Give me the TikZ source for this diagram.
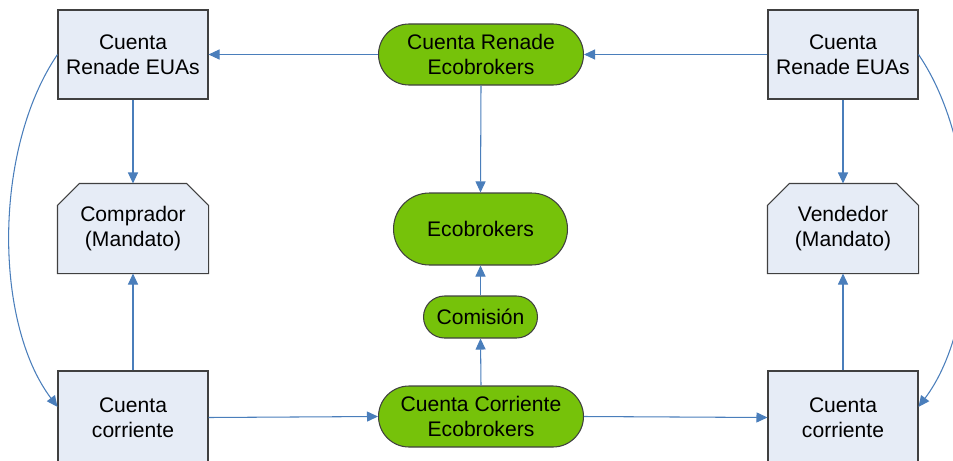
\documentclass[tikz,border=0pt]{standalone}
\usepackage{fontspec}
\setmainfont{Liberation Sans}
\usetikzlibrary{arrows.meta, shapes.misc, backgrounds}
\definecolor{flowblue}{HTML}{4A7EBB}
\definecolor{boxfill}{HTML}{E6ECF6}
\definecolor{boxline}{HTML}{404040}
\definecolor{ecogreen}{HTML}{76C20A}

\begin{document}
\begin{tikzpicture}[
  >={Triangle[length=2.2mm, width=2mm]},
  acct/.style={
    draw=boxline, line width=0.6pt, fill=boxfill,
    minimum width=30mm, minimum height=17.8mm, inner sep=2pt,
    font=\fontsize{12}{14.5}\selectfont, align=center
  },
  party/.style={acct, draw=none, fill=none},
  partyline/.style={draw=boxline, line width=0.6pt, fill=boxfill},
  ecobox/.style={
    draw=boxline, line width=0.6pt, fill=ecogreen, rounded rectangle,
    inner sep=2pt, font=\fontsize{12}{14.5}\selectfont, align=center
  },
  flow/.style={->, line width=0.6pt, flowblue},
]

% Page
\useasboundingbox (0,0) rectangle (19.06,9.2);

% Buyer side
\node[acct] (renL) at (2.66,8.11) {Cuenta\\Renade EUAs};
\node[party] (comp) at (2.66,4.63) {Comprador\\(Mandato)};
\node[acct, minimum height=18.6mm] (ccL) at (2.66,0.85) {Cuenta\\corriente};

% Seller side
\node[acct] (renR) at (16.86,8.11) {Cuenta\\Renade EUAs};
\node[party] (vend) at (16.86,4.63) {Vendedor\\(Mandato)};
\node[acct, minimum height=18.6mm] (ccR) at (16.86,0.85) {Cuenta\\corriente};

% Chamfered outlines of the two parties
\begin{scope}[on background layer]
\foreach \p in {comp, vend} {
  \draw[partyline] (\p.south west) -- ([yshift=-4.4mm]\p.north west)
    -- ([xshift=4.4mm]\p.north west) -- ([xshift=-4.4mm]\p.north east)
    -- ([yshift=-4.4mm]\p.north east) -- (\p.south east) -- cycle;
}
\end{scope}

% Ecobrokers column
\node[ecobox, minimum width=42.4mm, minimum height=12.2mm] (renEco) at (9.62,8.11)
  {Cuenta Renade\\Ecobrokers};
\node[ecobox, minimum width=36.2mm, minimum height=14.4mm] (eco) at (9.61,4.62)
  {Ecobrokers};
\node[ecobox, minimum width=24.2mm, minimum height=8.4mm] (comision) at (9.61,2.86)
  {Comisión};
\node[ecobox, minimum width=42.4mm, minimum height=12.2mm] (ccEco) at (9.62,0.87)
  {Cuenta Corriente\\Ecobrokers};

% Arrows
\draw[flow] (renR.west) -- (renEco.east);
\draw[flow] (renEco.west) -- (renL.east);
\draw[flow] (renEco.south) -- (eco.north);
\draw[flow] (ccEco.north) -- (comision.south);
\draw[flow] (comision.north) -- (eco.south);
\draw[flow] (renL.south) -- (comp.north);
\draw[flow] (ccL.north) -- (comp.south);
\draw[flow] (renR.south) -- (vend.north);
\draw[flow] (ccR.north) -- (vend.south);
\draw[flow] (ccL.east) -- (ccEco.west);
\draw[flow] (ccEco.east) -- (ccR.west);

% Side loops
\draw[flow] (renL.west) .. controls +(-1.28,-1.88) and +(-1.28,1.7) .. (ccL.172);
\draw[flow] (renR.east) .. controls +(1.28,-1.88) and +(1.28,1.7) .. (ccR.8);

\end{tikzpicture}
\end{document}
